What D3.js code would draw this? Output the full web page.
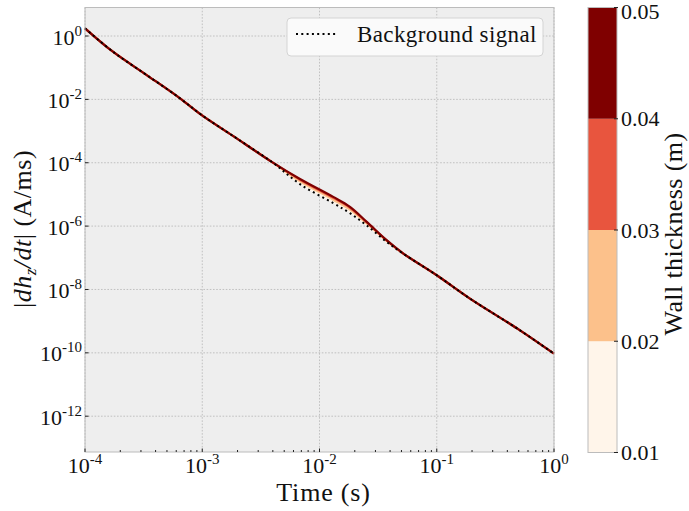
<!DOCTYPE html>
<html>
<head>
<meta charset="utf-8">
<script src="https://cdn.jsdelivr.net/npm/d3@7"></script>
<style>
  body { margin: 0; background: #fff; }
  text { font-family: "Liberation Serif", serif; fill: #111; }
</style>
</head>
<body>
<svg id="chart" width="689" height="511"></svg>
<script>
// time samples (s)
const times = [1e-4, 1.73e-4, 3.36e-4, 6.46e-4, 9.9e-4, 1.84e-3, 3.91e-3, 6.82e-3, 1.31e-2,
  1.82e-2, 2.53e-2, 3.74e-2, 5.19e-2, 1.0e-1, 1.92e-1, 5.13e-1, 1.0];

// background signal |dhz/dt| (A/ms)
const background = [1.75, 0.319, 5.86e-2, 1.08e-2, 3.19e-3, 6.92e-4, 1.07e-4, 2.11e-5, 5.30e-6,
  2.56e-6, 1.05e-6, 3.17e-7, 1.34e-7, 2.81e-8, 5.15e-9, 5.14e-10, 9.4e-11];

// response for each wall thickness
const thickness = [0.01, 0.02, 0.03, 0.04];
const wall001 = [1.75, 0.319, 5.86e-2, 1.08e-2, 3.19e-3, 6.92e-4, 1.07e-4, 2.28e-5, 5.81e-6,
  2.81e-6, 1.12e-6, 3.25e-7, 1.35e-7, 2.81e-8, 5.15e-9, 5.14e-10, 9.4e-11];
const wall002 = [1.75, 0.319, 5.86e-2, 1.08e-2, 3.19e-3, 6.92e-4, 1.07e-4, 2.59e-5, 6.82e-6,
  3.30e-6, 1.22e-6, 3.40e-7, 1.35e-7, 2.81e-8, 5.15e-9, 5.14e-10, 9.4e-11];
const wall003 = [1.75, 0.319, 5.86e-2, 1.08e-2, 3.19e-3, 6.92e-4, 1.07e-4, 2.91e-5, 7.83e-6,
  3.78e-6, 1.31e-6, 3.52e-7, 1.36e-7, 2.81e-8, 5.15e-9, 5.14e-10, 9.4e-11];
const wall004 = [1.75, 0.319, 5.86e-2, 1.08e-2, 3.19e-3, 6.92e-4, 1.07e-4, 3.08e-5, 8.38e-6,
  4.05e-6, 1.36e-6, 3.59e-7, 1.36e-7, 2.81e-8, 5.15e-9, 5.14e-10, 9.4e-11];
const wallSeries = [wall001, wall002, wall003, wall004];

const xTickExp = [-4, -3, -2, -1, 0];
const yTickExp = [0, -2, -4, -6, -8, -10, -12];
const cbarTicks = [0.01, 0.02, 0.03, 0.04, 0.05];
const cbarColors = ["#fff5ea", "#fcc18b", "#e8553e", "#7f0000"];

const svg = d3.select("#chart");
const m = { left: 85, top: 7.5, right: 554, bottom: 452 };

const x = d3.scaleLog().domain([1e-4, 1]).range([m.left, m.right]);
const y = d3.scaleLog().domain([Math.pow(10, -13.13), Math.pow(10, 0.9)]).range([m.bottom, m.top]);

// axes background
svg.append("rect")
  .attr("x", m.left).attr("y", m.top)
  .attr("width", m.right - m.left).attr("height", m.bottom - m.top)
  .attr("fill", "#eeeeee");

// grid
const grid = svg.append("g").attr("stroke", "#b5b5b5").attr("stroke-width", 0.8)
  .attr("stroke-dasharray", "1.6,1.6");
xTickExp.forEach(e => {
  grid.append("line").attr("x1", x(Math.pow(10, e))).attr("x2", x(Math.pow(10, e)))
    .attr("y1", m.top).attr("y2", m.bottom);
});
yTickExp.forEach(e => {
  grid.append("line").attr("y1", y(Math.pow(10, e))).attr("y2", y(Math.pow(10, e)))
    .attr("x1", m.left).attr("x2", m.right);
});

// curves
const line = d3.line()
  .x((d, i) => x(times[i]))
  .y(d => y(d))
  .curve(d3.curveCatmullRom.alpha(0.5));

wallSeries.forEach((s, k) => {
  svg.append("path").datum(s)
    .attr("d", line)
    .attr("fill", "none")
    .attr("stroke", cbarColors[k])
    .attr("stroke-width", 2.2);
});

svg.append("path").datum(background)
  .attr("d", line)
  .attr("fill", "none")
  .attr("stroke", "#000")
  .attr("stroke-width", 2)
  .attr("stroke-dasharray", "2,3.3");

// frame
svg.append("rect")
  .attr("x", m.left).attr("y", m.top)
  .attr("width", m.right - m.left).attr("height", m.bottom - m.top)
  .attr("fill", "none").attr("stroke", "#bcbcbc").attr("stroke-width", 1);

// x ticks (inward)
const minor = [];
for (let e = -4; e < 0; e++) for (let k = 2; k < 10; k++) minor.push(k * Math.pow(10, e));
const ticks = svg.append("g").attr("stroke", "#222").attr("stroke-width", 1);
minor.forEach(v => {
  ticks.append("line").attr("x1", x(v)).attr("x2", x(v)).attr("y1", m.bottom).attr("y2", m.bottom - 2);
});
xTickExp.forEach(e => {
  ticks.append("line").attr("x1", x(Math.pow(10, e))).attr("x2", x(Math.pow(10, e)))
    .attr("y1", m.bottom).attr("y2", m.bottom - 3.5);
});
yTickExp.forEach(e => {
  ticks.append("line").attr("y1", y(Math.pow(10, e))).attr("y2", y(Math.pow(10, e)))
    .attr("x1", m.left).attr("x2", m.left + 3.5);
});

function powLabel(g, e, px, py, anchor) {
  const t = g.append("text").attr("x", px).attr("y", py).attr("text-anchor", anchor)
    .attr("font-size", 22);
  t.append("tspan").text("10");
  t.append("tspan").attr("dy", -9).attr("font-size", 15).text(e);
}

xTickExp.forEach(e => powLabel(svg, e, x(Math.pow(10, e)), 473, "middle"));
yTickExp.forEach(e => powLabel(svg, e, 82, y(Math.pow(10, e)) + 8.5, "end"));

// axis labels
svg.append("text").attr("x", (m.left + m.right) / 2 + 4).attr("y", 501)
  .attr("text-anchor", "middle").attr("font-size", 26).attr("letter-spacing", 0.8)
  .text("Time (s)");

const yl = svg.append("text")
  .attr("transform", `translate(31, 229) rotate(-90)`)
  .attr("text-anchor", "middle").attr("font-size", 26).attr("letter-spacing", 0.5);
yl.append("tspan").text("|");
yl.append("tspan").attr("font-style", "italic").text("dh");
yl.append("tspan").attr("font-style", "italic").attr("font-size", 17).attr("dy", 5).text("z");
yl.append("tspan").attr("dy", -5).attr("font-style", "italic").text("/dt");
yl.append("tspan").text("| (A/ms)");

// legend
const lg = svg.append("g");
lg.append("rect").attr("x", 287).attr("y", 18).attr("width", 256).attr("height", 38)
  .attr("rx", 4).attr("fill", "#fafafa").attr("stroke", "#d4d4d4").attr("stroke-width", 1);
lg.append("line").attr("x1", 296).attr("x2", 338).attr("y1", 34).attr("y2", 34)
  .attr("stroke", "#000").attr("stroke-width", 2).attr("stroke-dasharray", "2,3.3");
lg.append("text").attr("x", 357).attr("y", 42).attr("font-size", 23).attr("letter-spacing", 0.4)
  .text("Background signal");

// colorbar
const cb = { left: 588, right: 617, top: 7.5, bottom: 452.5 };
const c = d3.scaleLinear().domain([0.01, 0.05]).range([cb.bottom, cb.top]);
thickness.forEach((t, i) => {
  svg.append("rect").attr("x", cb.left).attr("width", cb.right - cb.left)
    .attr("y", c(cbarTicks[i + 1])).attr("height", c(cbarTicks[i]) - c(cbarTicks[i + 1]))
    .attr("fill", cbarColors[i]);
});
svg.append("rect").attr("x", cb.left).attr("y", cb.top)
  .attr("width", cb.right - cb.left).attr("height", cb.bottom - cb.top)
  .attr("fill", "none").attr("stroke", "#bcbcbc");
cbarTicks.forEach(v => {
  svg.append("line").attr("x1", cb.right - 3).attr("x2", cb.right + 1)
    .attr("y1", c(v)).attr("y2", c(v)).attr("stroke", "#222");
  svg.append("text").attr("x", 621).attr("y", Math.max(c(v) + 7.5, 19)).attr("font-size", 22)
    .text(v.toFixed(2));
});
svg.append("text")
  .attr("transform", `translate(682, 234) rotate(-90)`)
  .attr("text-anchor", "middle").attr("font-size", 26).attr("letter-spacing", 0.4)
  .text("Wall thickness (m)");
</script>
</body>
</html>
